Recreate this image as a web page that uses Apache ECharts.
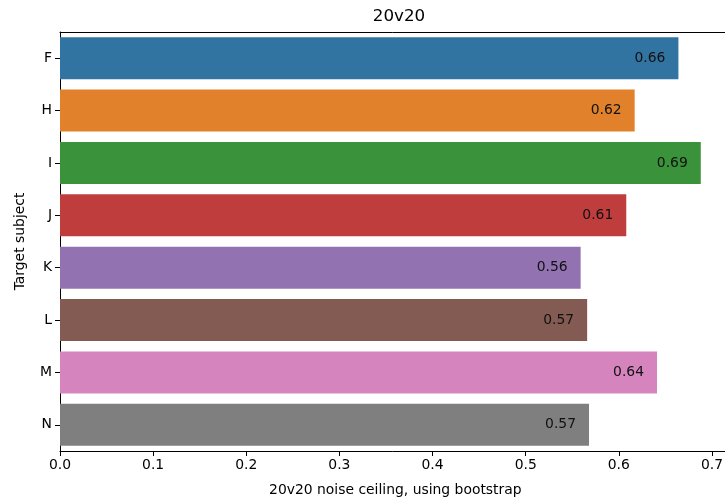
<!DOCTYPE html>
<html>
<head>
<meta charset="utf-8">
<script src="https://cdn.jsdelivr.net/npm/echarts@6/dist/echarts.min.js"></script>
<style>
  html, body { margin: 0; padding: 0; background: #fff; }
  #chart { width: 726px; height: 502px; }
</style>
</head>
<body>
<div id="chart"></div>
<script>
// subjects, top to bottom
var subjects = ['F', 'H', 'I', 'J', 'K', 'L', 'M', 'N'];
var ceilings = [0.664, 0.617, 0.688, 0.608, 0.559, 0.566, 0.641, 0.568];
var barColors = ['#3274a1', '#e1812c', '#3a923a', '#c03d3e', '#9372b2', '#845b53', '#d684bd', '#7f7f7f'];
var xTicks = [0, 0.1, 0.2, 0.3, 0.4, 0.5, 0.6, 0.7];

var font = 'DejaVu Sans';
// right edge of the picture cuts the axes a little before the real axis end
var xMax = 0.7136;
var chart = echarts.init(document.getElementById('chart'));

var barData = ceilings.map(function (v, i) {
    return { value: v, itemStyle: { color: barColors[i] } };
});

var option = {
    animation: false,
    title: {
        text: '20v20',
        left: 394,
        textAlign: 'center',
        top: 3,
        textStyle: { fontFamily: font, fontSize: 16.7, fontWeight: 'normal', color: '#000' }
    },
    grid: {
        left: 60,
        right: 0,
        top: 32,
        bottom: 51
    },
    xAxis: [{
        type: 'value',
        min: 0,
        max: xMax,
        interval: 0.1,
        name: '20v20 noise ceiling, using bootstrap',
        nameLocation: 'middle',
        nameGap: 32,
        nameTextStyle: { fontFamily: font, fontSize: 13.9, color: '#000', padding: [0, 0, 0, 6] },
        axisLine: { show: true, lineStyle: { color: '#000', width: 1 } },
        axisTick: { show: true, length: 5, lineStyle: { color: '#000' } },
        axisLabel: {
            fontFamily: font, fontSize: 13.9, color: '#000', margin: 7,
            showMaxLabel: false,
            formatter: function (v) {
                return xTicks.some(function (t) { return Math.abs(t - v) < 1e-6; }) ? v.toFixed(1) : '';
            }
        },
        splitLine: { show: false }
    }, {
        type: 'value',
        position: 'top',
        min: 0,
        max: xMax,
        axisLine: { show: true, lineStyle: { color: '#000', width: 1 } },
        axisTick: { show: false },
        axisLabel: { show: false },
        splitLine: { show: false }
    }],
    yAxis: {
        type: 'category',
        data: subjects,
        inverse: true,
        name: 'Target subject',
        nameLocation: 'middle',
        nameGap: 33,
        nameTextStyle: { fontFamily: font, fontSize: 13.9, color: '#000' },
        axisLine: { show: true, lineStyle: { color: '#000', width: 1 } },
        axisTick: { show: true, length: 5, alignWithLabel: true, lineStyle: { color: '#000' } },
        axisLabel: { fontFamily: font, fontSize: 13.9, color: '#000', margin: 8 }
    },
    series: [{
        type: 'bar',
        xAxisIndex: 0,
        data: barData,
        barCategoryGap: '20%',
        label: {
            show: true,
            position: 'insideRight',
            distance: 13,
            fontFamily: font,
            fontSize: 13.9,
            color: '#111',
            formatter: function (p) { return p.value.toFixed(2); }
        }
    }]
};

chart.setOption(option);
</script>
</body>
</html>
